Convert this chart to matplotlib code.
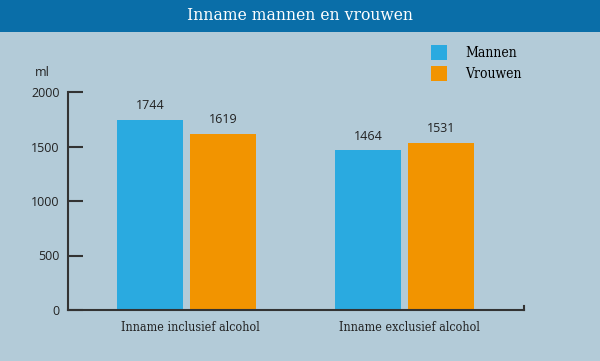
import matplotlib.pyplot as plt
from matplotlib.patches import Rectangle, Patch
import numpy as np

# Data
categories = ['Inname inclusief alcohol', 'Inname exclusief alcohol']
mannen = [1744, 1464]
vrouwen = [1619, 1531]
series_names = ['Mannen', 'Vrouwen']
yticks = [0, 500, 1000, 1500, 2000]

bg = '#b3cbd8'
blue = '#2aaae0'
orange = '#f29400'
axcol = '#333333'

fig = plt.figure(figsize=(6, 3.61), dpi=100, facecolor=bg)

# title band
fig.patches.append(Rectangle((0, 1 - 32 / 361), 1, 32 / 361, transform=fig.transFigure,
                             facecolor='#0a6ea8', edgecolor='none', zorder=0))
fig.text(0.5, 1 - 16 / 361, 'Inname mannen en vrouwen', color='white', ha='center', va='center',
         fontsize=12.5, family='DejaVu Serif', fontstretch='condensed')

ax = fig.add_axes([68 / 600, 1 - 310 / 361, 456 / 600, 218 / 361])
ax.set_facecolor('none')

x = np.arange(len(categories))
w = 0.302
off = 0.167
b1 = ax.bar(x - off, mannen, w, color=blue)
b2 = ax.bar(x + off, vrouwen, w, color=orange)

for bars, vals in [(b1, mannen), (b2, vrouwen)]:
    for r, v in zip(bars, vals):
        ax.text(r.get_x() + r.get_width() / 2, v + 70, str(v), ha='center', va='bottom',
                fontsize=9, color='#222222', family='Open Sans')

ax.set_xlim(-0.542, 1.545)
ax.set_ylim(0, 2000)
ax.set_yticks(yticks)
ax.set_yticklabels([str(t) for t in yticks], fontsize=9, color='#222222', family='Open Sans')
ax.tick_params(axis='y', direction='in', length=11, width=1.5, color=axcol, pad=6)
ax.set_xticks(x + 0.02)
ax.set_xticklabels(categories, fontsize=9, color='#222222', family='DejaVu Serif',
                   fontstretch='condensed')
ax.tick_params(axis='x', length=0, pad=8)

for s in ['top', 'right']:
    ax.spines[s].set_visible(False)
for s in ['left', 'bottom']:
    ax.spines[s].set_color(axcol)
    ax.spines[s].set_linewidth(1.5)

# small end tick on the x axis
ax.plot([1, 1], [0, 0.02], transform=ax.transAxes, color=axcol, lw=1.5, clip_on=False)

ax.text(-0.04, 1.06, 'ml', transform=ax.transAxes, ha='right', va='bottom', fontsize=9,
        color='#222222', family='Open Sans')

handles = [Patch(facecolor=blue), Patch(facecolor=orange)]
leg = fig.legend(handles, series_names, loc='upper left', bbox_to_anchor=(418 / 600, 1 - 32 / 361),
                 frameon=False, handlelength=1.2, handleheight=1.3, handletextpad=1.3,
                 labelspacing=0.45, prop={'family': 'DejaVu Serif', 'size': 10, 'stretch': 'condensed'})

fig.savefig('out.png', dpi=100, facecolor=bg)
